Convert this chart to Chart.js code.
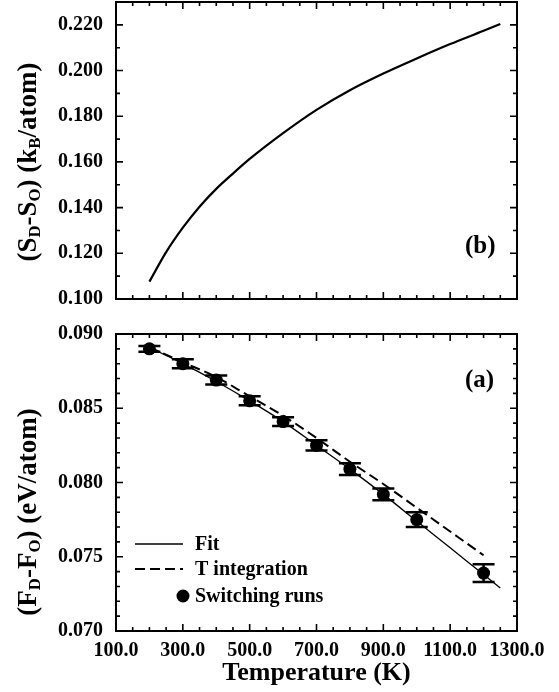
<!DOCTYPE html>
<html>
<head>
<meta charset="utf-8">
<script src="https://cdn.jsdelivr.net/npm/chart.js@4.4.1/dist/chart.umd.min.js"></script>
<style>
  html, body { margin: 0; padding: 0; background: #fff; }
  #wrap { position: relative; width: 559px; height: 692px; overflow: hidden; background: #fff; }
  canvas { position: absolute; left: 0; }
  #cTop { top: 0; }
  #cBot { top: 310px; }
  .ytitle {
    position: absolute; white-space: nowrap; color: #000;
    font: bold 27px "Liberation Serif", "Times New Roman", serif;
    transform: translate(-50%, -50%) rotate(-90deg);
  }
  .ytitle sub { font-size: 0.62em; vertical-align: -0.25em; line-height: 0; }
  .tag {
    position: absolute; color: #000;
    font: bold 25px "Liberation Serif", "Times New Roman", serif;
    transform: translate(0, -50%);
  }
</style>
</head>
<body>
<div id="wrap">
  <canvas id="cTop" width="559" height="320"></canvas>
  <canvas id="cBot" width="559" height="382"></canvas>
  <div class="ytitle" style="left:27px; top:162px;">(S<sub>D</sub>-S<sub>O</sub>) (k<sub>B</sub>/atom)</div>
  <div class="ytitle" style="left:27px; top:512px;">(F<sub>D</sub>-F<sub>O</sub>) (eV/atom)</div>
  <div class="tag" style="left:465px; top:245px;">(b)</div>
  <div class="tag" style="left:465px; top:379px;">(a)</div>
</div>
<script>
// ---- data -------------------------------------------------------------
// Panel (b): entropy difference vs temperature
const T_ENTROPY = [200, 250, 300, 350, 400, 450, 500, 600, 700, 800, 900, 1000, 1100, 1200, 1250];
const S_ENTROPY = [0.1076, 0.1205, 0.1312, 0.1404, 0.1482, 0.1549, 0.1613, 0.1726, 0.1828, 0.1914, 0.1987, 0.2053, 0.2116, 0.2174, 0.2204];

// Panel (a): free energy difference vs temperature
const T_FIT = [200, 300, 400, 500, 600, 700, 800, 900, 1000, 1100, 1200, 1250];
const F_FIT = [0.0891, 0.0880, 0.0868, 0.0855, 0.0841, 0.0825, 0.0809, 0.0792, 0.0774, 0.0756, 0.0738, 0.0729];

const T_INTEG = [200, 300, 400, 500, 600, 700, 800, 900, 1000, 1100, 1200];
const F_INTEG = [0.0891, 0.0881, 0.0871, 0.0858, 0.0845, 0.0830, 0.0814, 0.0799, 0.0783, 0.0767, 0.0751];

const T_SWITCH = [200, 300, 400, 500, 600, 700, 800, 900, 1000, 1200];
const F_SWITCH = [0.0890, 0.0880, 0.0869, 0.0855, 0.0841, 0.0825, 0.0809, 0.0792, 0.0775, 0.0739];
const F_SWITCH_ERR = [0.0002, 0.0003, 0.0003, 0.0003, 0.0003, 0.00035, 0.0004, 0.0004, 0.0005, 0.0006];

// Axis ticks
const X_TICKS = [100, 300, 500, 700, 900, 1100, 1300];
const Y_TICKS_S = [0.100, 0.120, 0.140, 0.160, 0.180, 0.200, 0.220];
const Y_TICKS_F = [0.070, 0.075, 0.080, 0.085, 0.090];

// Legend entries for panel (a)
const LEGEND_TEXT = ['Fit', 'T integration', 'Switching runs'];

// ---- helpers ----------------------------------------------------------
const FONT = '"Liberation Serif", "Times New Roman", serif';
Chart.defaults.font.family = FONT;
Chart.defaults.font.weight = 'bold';
Chart.defaults.color = '#000';

const pairs = (xs, ys) => xs.map((x, i) => ({ x, y: ys[i] }));

// Frame around the plot area with inward ticks on all four sides
const boxTicks = {
  id: 'boxTicks',
  afterDraw(chart, args, o) {
    const { ctx, chartArea: a } = chart;
    ctx.save();
    ctx.strokeStyle = '#000';
    ctx.lineWidth = o.tickWidth;
    for (const ax of o.axes) {
      const sc = chart.scales[ax.id];
      const n = Math.round((sc.max - sc.min) / ax.minor);
      for (let i = 0; i <= n; i++) {
        const v = sc.min + i * ax.minor;
        const r = (v - ax.base) / ax.major;
        const len = Math.abs(r - Math.round(r)) < 1e-6 ? o.major : o.minor;
        const p = sc.getPixelForValue(v);
        ctx.beginPath();
        if (sc.isHorizontal()) {
          ctx.moveTo(p, a.bottom); ctx.lineTo(p, a.bottom - len);
          ctx.moveTo(p, a.top); ctx.lineTo(p, a.top + len);
        } else {
          ctx.moveTo(a.left, p); ctx.lineTo(a.left + len, p);
          ctx.moveTo(a.right, p); ctx.lineTo(a.right - len, p);
        }
        ctx.stroke();
      }
    }
    ctx.lineWidth = o.frameWidth;
    ctx.strokeRect(a.left, a.top, a.right - a.left, a.bottom - a.top);
    ctx.restore();
  }
};

// Vertical error bars with flat caps
const errorBars = {
  id: 'errorBars',
  afterDatasetsDraw(chart, args, o) {
    const { ctx } = chart;
    const xs = chart.scales.x, ys = chart.scales.y;
    chart.data.datasets.forEach(ds => {
      if (!ds.errors) return;
      ctx.save();
      ctx.strokeStyle = '#000';
      ctx.lineWidth = o.width;
      ds.data.forEach((pt, i) => {
        const e = ds.errors[i];
        const x = xs.getPixelForValue(pt.x);
        const y1 = ys.getPixelForValue(pt.y + e);
        const y2 = ys.getPixelForValue(pt.y - e);
        ctx.beginPath();
        ctx.moveTo(x, y1); ctx.lineTo(x, y2);
        ctx.moveTo(x - o.cap, y1); ctx.lineTo(x + o.cap, y1);
        ctx.moveTo(x - o.cap, y2); ctx.lineTo(x + o.cap, y2);
        ctx.stroke();
      });
      ctx.restore();
    });
  }
};

// Legend drawn inside the plot area, lower left
const innerLegend = {
  id: 'innerLegend',
  afterDraw(chart, args, o) {
    if (!o.rows) return;
    const { ctx, chartArea: a } = chart;
    ctx.save();
    ctx.font = 'bold ' + o.fontSize + 'px ' + FONT;
    ctx.textBaseline = 'middle';
    ctx.textAlign = 'left';
    ctx.fillStyle = '#000';
    chart.data.datasets.forEach((ds, i) => {
      const y = a.bottom - o.rows[i];
      const x0 = a.left + o.sampleStart, x1 = a.left + o.sampleEnd;
      if (ds.showLine === false) {
        ctx.beginPath();
        ctx.arc(x1, y, ds.pointRadius, 0, Math.PI * 2);
        ctx.fill();
      } else {
        ctx.save();
        ctx.strokeStyle = ds.borderColor;
        ctx.lineWidth = ds.borderWidth;
        ctx.setLineDash(ds.borderDash || []);
        ctx.beginPath();
        ctx.moveTo(x0, y); ctx.lineTo(x1, y);
        ctx.stroke();
        ctx.restore();
      }
      ctx.fillText(LEGEND_TEXT[i], a.left + o.textStart, y + 1);
    });
    ctx.restore();
  }
};

// Fixed axis sizes; label overhang is not allowed to shrink the plot area
function fixedWidth(w) {
  return s => { s.width = w; s.paddingTop = 0; s.paddingBottom = 0; s.paddingLeft = 0; s.paddingRight = 0; };
}
function fixedHeight(h) {
  return s => { s.height = h; s.paddingTop = 0; s.paddingBottom = 0; s.paddingLeft = 0; s.paddingRight = 0; };
}
function setTicks(list) { return s => { s.ticks = list.map(v => ({ value: v })); }; }

const baseX = (showLabels, height) => ({
  type: 'linear', min: 100, max: 1300,
  afterBuildTicks: setTicks(X_TICKS),
  afterFit: fixedHeight(height),
  grid: { display: false, drawTicks: false },
  border: { display: false },
  ticks: {
    display: showLabels, padding: 8, maxRotation: 0, autoSkip: false,
    font: { size: 20, weight: 'bold' },
    callback: v => Number(v).toFixed(1)
  },
  title: {
    display: showLabels, text: 'Temperature (K)',
    font: { size: 26, weight: 'bold' }, padding: { top: 0, bottom: 3 }
  }
});

const baseY = (min, max, list) => ({
  type: 'linear', min, max,
  afterBuildTicks: setTicks(list),
  afterFit: fixedWidth(116),
  grid: { display: false, drawTicks: false },
  border: { display: false },
  ticks: {
    padding: 13, autoSkip: false,
    font: { size: 20, weight: 'bold' },
    callback: v => Number(v).toFixed(3)
  }
});

// ---- panel (b) --------------------------------------------------------
new Chart(document.getElementById('cTop'), {
  type: 'scatter',
  data: {
    datasets: [{
      data: pairs(T_ENTROPY, S_ENTROPY),
      showLine: true, borderColor: '#000', borderWidth: 2.2,
      pointRadius: 0, cubicInterpolationMode: 'monotone'
    }]
  },
  options: {
    responsive: false, animation: false,
    layout: { padding: { top: 2, right: 42, left: 0, bottom: 0 } },
    plugins: {
      legend: { display: false }, tooltip: { enabled: false },
      boxTicks: {
        tickWidth: 1.6, frameWidth: 2, major: 7, minor: 4,
        axes: [{ id: 'x', base: 100, major: 200, minor: 50 },
               { id: 'y', base: 0.1, major: 0.02, minor: 0.01 }]
      }
    },
    scales: { x: baseX(false, 21), y: baseY(0.100, 0.230, Y_TICKS_S) }
  },
  plugins: [boxTicks]
});

// ---- panel (a) --------------------------------------------------------
new Chart(document.getElementById('cBot'), {
  type: 'scatter',
  data: {
    datasets: [
      {
        data: pairs(T_FIT, F_FIT),
        showLine: true, borderColor: '#000', borderWidth: 1.3,
        pointRadius: 0, cubicInterpolationMode: 'monotone'
      },
      {
        data: pairs(T_INTEG, F_INTEG),
        showLine: true, borderColor: '#000', borderWidth: 2, borderDash: [10, 5],
        pointRadius: 0, cubicInterpolationMode: 'monotone'
      },
      {
        data: pairs(T_SWITCH, F_SWITCH), errors: F_SWITCH_ERR,
        showLine: false, pointRadius: 6.5, pointStyle: 'circle',
        backgroundColor: '#000', borderColor: '#000', borderWidth: 0
      }
    ]
  },
  options: {
    responsive: false, animation: false,
    layout: { padding: { top: 24, right: 42, left: 0, bottom: 0 } },
    plugins: {
      legend: { display: false }, tooltip: { enabled: false },
      boxTicks: {
        tickWidth: 1.6, frameWidth: 2, major: 7, minor: 4,
        axes: [{ id: 'x', base: 100, major: 200, minor: 50 },
               { id: 'y', base: 0.07, major: 0.005, minor: 0.001 }]
      },
      errorBars: { width: 2.5, cap: 11 },
      innerLegend: {
        fontSize: 20, sampleStart: 19, sampleEnd: 67, textStart: 79,
        rows: [87, 62, 35]
      }
    },
    scales: { x: baseX(true, 61), y: baseY(0.070, 0.090, Y_TICKS_F) }
  },
  plugins: [boxTicks, errorBars, innerLegend]
});
</script>
</body>
</html>
